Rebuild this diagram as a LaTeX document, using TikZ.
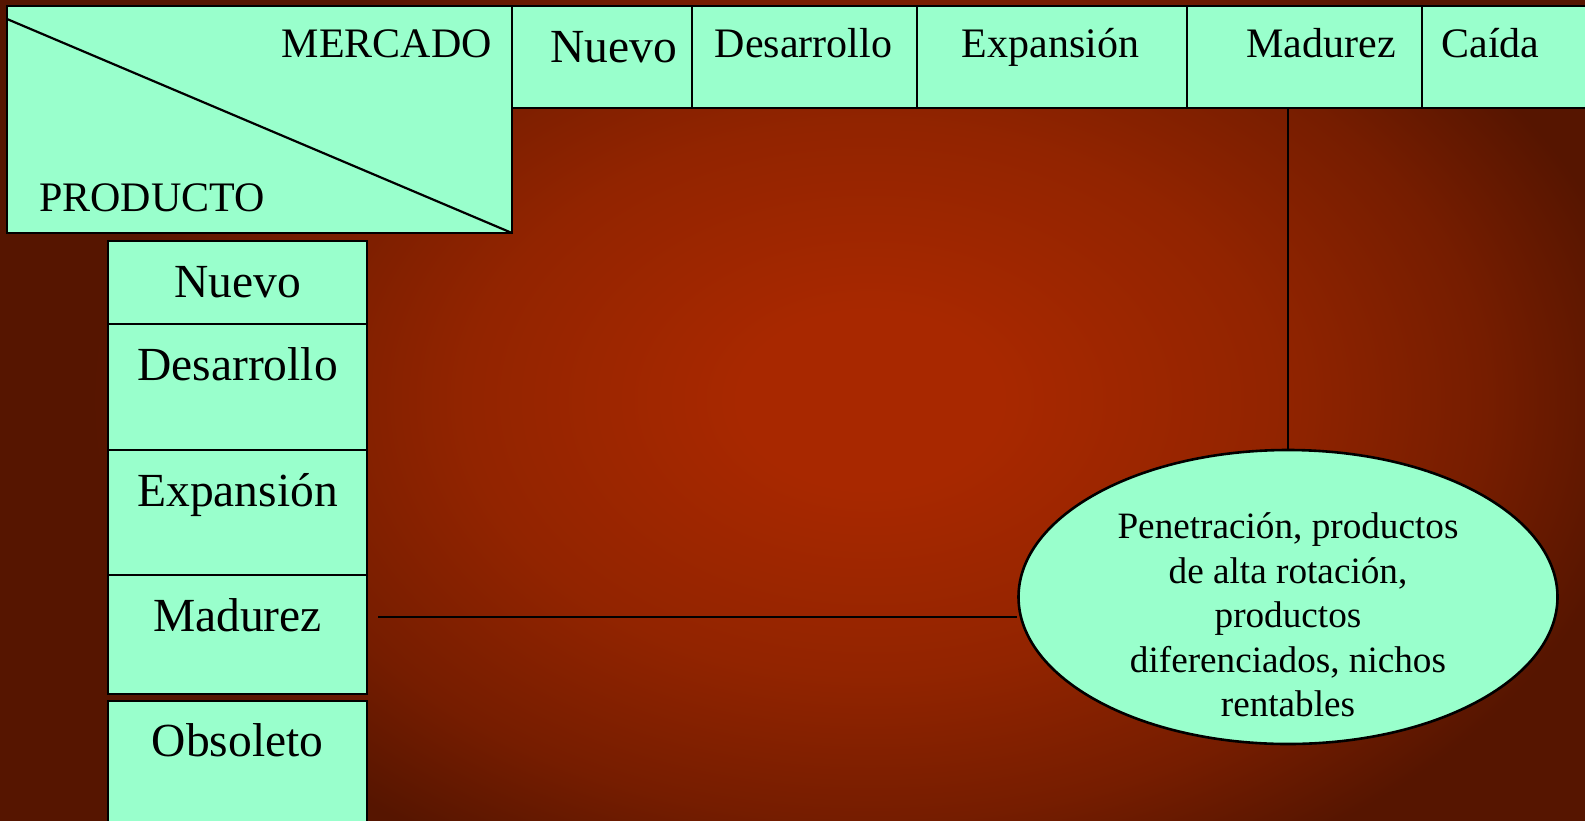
\documentclass[tikz,border=0pt]{standalone}
\usepackage{fontspec}
\setmainfont{Liberation Serif}
\newfontfamily\slidefont{Liberation Serif}
\usetikzlibrary{shapes.geometric}

\definecolor{mint}{HTML}{99FFCC}
\definecolor{bgcentre}{HTML}{A82800}
\definecolor{bgmid}{HTML}{922400}
\definecolor{bgdark}{HTML}{761D00}
\definecolor{bgedge}{HTML}{561500}
\pgfdeclareradialshading{slidebg}{\pgfpoint{0bp}{0bp}}{color(0bp)=(bgcentre); color(4bp)=(bgcentre); color(12.5bp)=(bgmid); color(19bp)=(bgdark); color(24bp)=(bgedge); color(50bp)=(bgedge)}

\tikzset{
	cell/.style={draw=black, fill=mint, line width=2.6pt},
	hdr/.style={font=\slidefont\fontsize{42}{50}\selectfont, inner sep=0pt, anchor=base},
	side/.style={font=\slidefont\fontsize{47.5}{56}\selectfont, inner sep=0pt, anchor=base},
	link/.style={draw=black, line width=2.8pt}
}

\begin{document}
\begin{tikzpicture}[x=1pt, y=-1pt]

	\useasboundingbox (0, 0) rectangle (1585, 820);
	\fill[bgedge] (-10, -10) rectangle (1595, 830);
	\shade[shading=slidebg] (60, -150) rectangle (1680, 950);

	% corner box
		\draw[cell] (7, 6) rectangle (512, 233);
		\draw[line width=2.2pt] (7, 19) to (512, 233);
		\node[hdr, anchor=base east] (mercado) at (492, 57){MERCADO};
		\node[hdr, anchor=base west] (producto) at (39, 211){PRODUCTO};

	% market stages
		\draw[cell] (512, 6) rectangle (692, 108);
		\draw[cell] (692, 6) rectangle (917, 108);
		\draw[cell] (917, 6) rectangle (1187, 108);
		\draw[cell] (1187, 6) rectangle (1422, 108);
		\draw[cell] (1422, 6) rectangle (1600, 108);

		\node[side] (mnuevo) at (613.5, 62){Nuevo};
		\node[hdr] (mdes) at (803.5, 57){Desarrollo};
		\node[hdr] (mexp) at (1050.5, 57){Expansión};
		\node[hdr] (mmad) at (1321, 57){Madurez};
		\node[hdr] (mcaida) at (1490.5, 57){Caída};

	% product stages
		\draw[cell] (108, 241) rectangle (367, 324);
		\draw[cell] (108, 324) rectangle (367, 450);
		\draw[cell] (108, 450) rectangle (367, 575);
		\draw[cell] (108, 575) rectangle (367, 694);
		\draw[cell] (108, 701) rectangle (367, 840);

		\node[side] (pnuevo) at (237.5, 297){Nuevo};
		\node[side] (pdes) at (237.5, 380){Desarrollo};
		\node[side] (pexp) at (237.5, 506){Expansión};
		\node[side] (pmad) at (237.5, 631){Madurez};
		\node[side] (pobs) at (237.5, 756){Obsoleto};

	% strategy
		\node[ellipse, draw=black, fill=mint, line width=2.6pt, minimum width=539pt, minimum height=294pt, inner sep=0pt] (ell) at (1288, 597){};
		\node[font=\slidefont\fontsize{37.2}{44.5}\selectfont, align=center, inner sep=0pt] (elltxt) at (1288, 615){Penetración, productos\\de alta rotación,\\productos\\diferenciados, nichos\\rentables};

		\coordinate (madtop) at (1288, 108);
		\coordinate (madleft) at (378, 617);
		\draw[link] (madtop) to (ell.north);
		\draw[link] (madleft) to (madleft -| ell.west);

\end{tikzpicture}
\end{document}
